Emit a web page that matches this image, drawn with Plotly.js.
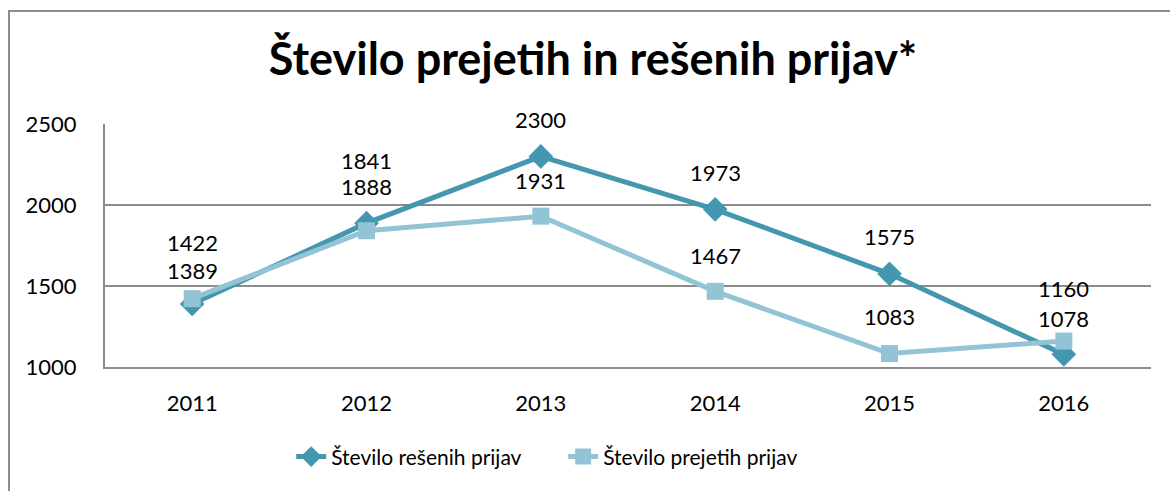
<!DOCTYPE html>
<html>
<head>
<meta charset="utf-8">
<script src="https://cdn.plot.ly/plotly-3.0.1.min.js"></script>
<style>
  html, body { margin: 0; padding: 0; background: #fff; }
  #wrap { position: relative; width: 1170px; height: 491px; overflow: hidden; }
  #chart { position: absolute; left: 0; top: 0; width: 1170px; height: 491px; }
  #frame { position: absolute; left: 8px; top: 10px; width: 1300px; height: 600px;
           border-left: 2px solid #8c8c8c; border-top: 2px solid #8c8c8c; pointer-events: none; }
</style>
</head>
<body>
<div id="wrap">
  <div id="chart"></div>
  <div id="frame"></div>
</div>
<script>
// ---- data ----
const years = ['2011', '2012', '2013', '2014', '2015', '2016'];
const resenih = [1389, 1888, 2300, 1973, 1575, 1078];   // Število rešenih prijav
const prejetih = [1422, 1841, 1931, 1467, 1083, 1160];  // Število prejetih prijav
const seriesNames = ['Število rešenih prijav', 'Število prejetih prijav'];
const chartTitle = 'Število prejetih in rešenih prijav*';

// ---- style ----
const darkColor = '#4397AF';
const lightColor = '#93C4D5';
const gridColor = '#8c8c8c';
const FONT = 'Lato, "Open Sans", sans-serif';
// vertical label offsets (px) above each point
const resenihShift = [33, 37, 37, 37, 37, 36];
const prejetihShift = [56, 70, 36, 36, 37, 53];

const traces = [
  {
    x: years, y: resenih, name: seriesNames[0], type: 'scatter', mode: 'lines+markers',
    line: { color: darkColor, width: 5 },
    marker: { symbol: 'diamond', size: 19, color: darkColor },
    legend: 'legend'
  },
  {
    x: years, y: prejetih, name: seriesNames[1], type: 'scatter', mode: 'lines+markers',
    line: { color: lightColor, width: 5 },
    marker: { symbol: 'square', size: 17, color: lightColor },
    legend: 'legend2'
  }
];

const annotations = [];
years.forEach((yr, i) => {
  annotations.push({ x: i, y: resenih[i], text: String(resenih[i]), showarrow: false,
    yshift: resenihShift[i], font: { family: FONT, size: 22, color: '#000' } });
  annotations.push({ x: i, y: prejetih[i], text: String(prejetih[i]), showarrow: false,
    yshift: prejetihShift[i], font: { family: FONT, size: 22, color: '#000' } });
});

const legendFont = { family: FONT, size: 21, color: '#000' };
const layout = {
  width: 1170, height: 491,
  margin: { l: 105, r: 19, t: 124, b: 124 },
  paper_bgcolor: '#fff', plot_bgcolor: '#fff',
  font: { family: FONT, size: 22, color: '#000' },
  title: { text: '<b>' + chartTitle + '</b>', font: { family: FONT, size: 45, color: '#000' },
    x: 0.4665, xanchor: 'center', y: 0.88, yanchor: 'middle', xref: 'paper', yref: 'container' },
  xaxis: {
    type: 'category', range: [-0.5, 5.5], autorange: false,
    showgrid: false, showline: true, linecolor: gridColor, linewidth: 2,
    ticks: 'outside', ticklen: 16, tickcolor: 'rgba(0,0,0,0)', zeroline: false,
    tickfont: { family: FONT, size: 22, color: '#000' }, fixedrange: true
  },
  yaxis: {
    range: [1000, 2500], autorange: false, dtick: 500, tick0: 1000, showgrid: true, gridcolor: gridColor, gridwidth: 2,
    showline: true, linecolor: gridColor, linewidth: 2, zeroline: false,
    ticks: 'outside', ticklen: 22, tickcolor: 'rgba(0,0,0,0)',
    tickfont: { family: FONT, size: 22, color: '#000' }, fixedrange: true
  },
  legend: {
    orientation: 'h', x: 0.178, xanchor: 'left', y: -0.37, yanchor: 'middle',
    font: legendFont, itemwidth: 30, bgcolor: 'rgba(0,0,0,0)'
  },
  legend2: {
    orientation: 'h', x: 0.438, xanchor: 'left', y: -0.37, yanchor: 'middle',
    font: legendFont, itemwidth: 30, bgcolor: 'rgba(0,0,0,0)'
  },
  showlegend: true,
  annotations: annotations
};

Plotly.newPlot('chart', traces, layout, { displayModeBar: false, staticPlot: true });
</script>
</body>
</html>
